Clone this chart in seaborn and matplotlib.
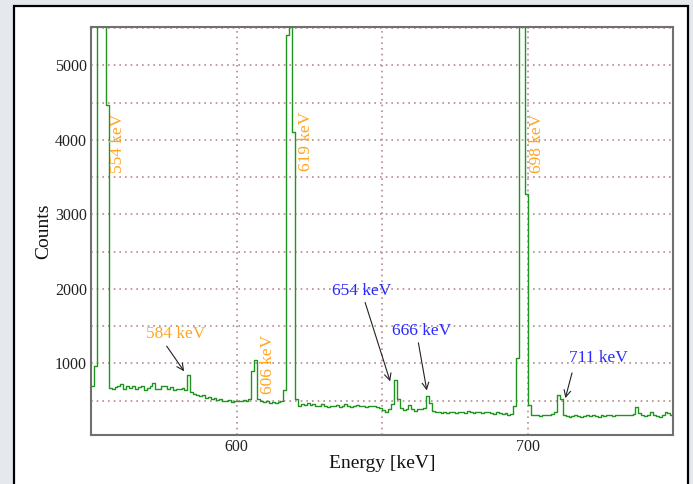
import matplotlib
matplotlib.use("Agg")
import matplotlib.pyplot as plt
import seaborn as sns
import pandas as pd
import numpy as np
from matplotlib.patches import Rectangle
from matplotlib.ticker import FixedLocator

# ---------------- data ----------------
bin_start_kev = list(range(550, 750))          # 1 keV bins
counts = [
    # 550-559
    700, 960, 14000, 16000, 14000, 4470, 670, 650, 680, 700,
    # 560-569
    720, 660, 690, 670, 700, 650, 680, 690, 640, 670,
    # 570-579
    700, 730, 660, 650, 690, 700, 660, 680, 640, 660,
    # 580-589
    650, 670, 640, 840, 620, 590, 580, 560, 570, 540,
    # 590-599
    550, 520, 530, 510, 520, 500, 490, 510, 480, 500,
    # 600-609
    500, 490, 510, 500, 520, 890, 1040, 520, 490, 480,
    # 610-619
    490, 470, 480, 470, 480, 490, 640, 5400, 16000, 4100,
    # 620-629
    520, 430, 450, 440, 470, 440, 450, 420, 430, 450,
    # 630-639
    420, 410, 430, 420, 440, 410, 430, 450, 420, 410,
    # 640-649
    430, 440, 420, 430, 410, 420, 430, 420, 410, 400,
    # 650-659
    370, 350, 390, 450, 780, 520, 400, 370, 390, 440,
    # 660-669
    380, 360, 390, 380, 400, 560, 460, 360, 340, 350,
    # 670-679
    330, 340, 330, 350, 340, 330, 350, 340, 330, 360,
    # 680-689
    340, 330, 350, 340, 330, 340, 350, 330, 320, 340,
    # 690-699
    330, 320, 330, 310, 320, 420, 1070, 16000, 16000, 3270,
    # 700-709
    440, 310, 300, 310, 290, 300, 310, 300, 320, 350,
    # 710-719
    570, 520, 300, 290, 280, 290, 300, 290, 280, 290,
    # 720-729
    300, 290, 300, 290, 280, 300, 290, 300, 310, 290,
    # 730-739
    300, 310, 300, 310, 300, 310, 320, 410, 330, 300,
    # 740-749
    290, 300, 350, 310, 290, 280, 300, 350, 330, 300,
]

xtick_values = [600, 700]
ytick_values = [1000, 2000, 3000, 4000, 5000]

orange_labels = ["554 keV", "619 keV", "698 keV", "606 keV", "584 keV"]
blue_labels = ["654 keV", "666 keV", "711 keV"]

# ---------------- figure ----------------
sns.set_theme(style="white")
plt.rcParams["font.family"] = ["Liberation Serif", "DejaVu Serif"]

fig = plt.figure(figsize=(6.93, 4.84), dpi=100, facecolor="#e5e8ec")
W, H = 693, 484
fig.patches.append(Rectangle((14 / W, -0.05), (688 - 14) / W, 1.05 - 5.5 / H,
                             transform=fig.transFigure, facecolor="white",
                             edgecolor="black", linewidth=1.6, zorder=-10))

ax = fig.add_axes([91.3 / W, 49 / H, (673.3 - 91.3) / W, (435 - 27.3) / H])
ax.set_zorder(5)
ax.set_facecolor("white")

edges = bin_start_kev + [bin_start_kev[-1] + 1]
df = pd.DataFrame({"Energy": edges, "Counts": counts + [counts[-1]]})
sns.lineplot(data=df, x="Energy", y="Counts", ax=ax, drawstyle="steps-post",
             color="#1f951f", linewidth=1.0, estimator=None, sort=False, zorder=3)

ax.set_xlim(550, 750)
ax.set_ylim(37, 5510)

ax.xaxis.set_major_locator(FixedLocator(xtick_values))
ax.xaxis.set_minor_locator(FixedLocator([550, 650, 750]))
ax.yaxis.set_major_locator(FixedLocator(ytick_values))
ax.yaxis.set_minor_locator(FixedLocator([500, 1500, 2500, 3500, 4500, 5500]))
ax.tick_params(which="both", length=0)
ax.tick_params(axis="x", pad=3, labelsize=11.5, colors="#222222")
ax.tick_params(axis="y", pad=3, labelsize=11.5, colors="#222222")
ax.grid(which="both", color="#b48c8c", linestyle=(0, (1, 2.4)), linewidth=1.2, zorder=1)
ax.set_axisbelow(True)

for s in ax.spines.values():
    s.set_visible(True)
    s.set_color("#707070")
    s.set_linewidth(1.5)

ax.set_xlabel("Energy [keV]", fontsize=14, labelpad=0, color="#111111")
ax.set_ylabel("Counts", fontsize=14, labelpad=2, color="#111111")

orange = "#ffa522"
blue = "#2a2aff"
fs = 12.5

# vertical orange labels
for txt, (x, y) in zip(orange_labels[:4], [(559.2, 3955), (623.7, 3980), (703.1, 3955), (610.8, 990)]):
    ax.text(x, y, txt, rotation=90, color=orange, fontsize=fs, ha="center", va="center", zorder=4)

arrow_kw = dict(arrowstyle="->", color="#222222", lw=0.8, shrinkA=0, shrinkB=0)

# 584 keV
ax.text(579.1, 1388, orange_labels[4], color=orange, fontsize=fs, ha="center", va="center")
ax.annotate("", xy=(581.9, 892), xytext=(575.9, 1230), arrowprops=arrow_kw)

# blue labels with arrows
blue_pos = [(643.0, 1975), (663.6, 1432), (724.3, 1073)]
arrow_from = [(644.1, 1816), (662.4, 1275), (715.2, 870)]
arrow_to = [(652.7, 757), (665.3, 635), (712.9, 532)]
for txt, p, a, b in zip(blue_labels, blue_pos, arrow_from, arrow_to):
    ax.text(p[0], p[1], txt, color=blue, fontsize=fs, ha="center", va="center")
    ax.annotate("", xy=b, xytext=a, arrowprops=arrow_kw)

fig.savefig("out.png", dpi=100, facecolor=fig.get_facecolor())
